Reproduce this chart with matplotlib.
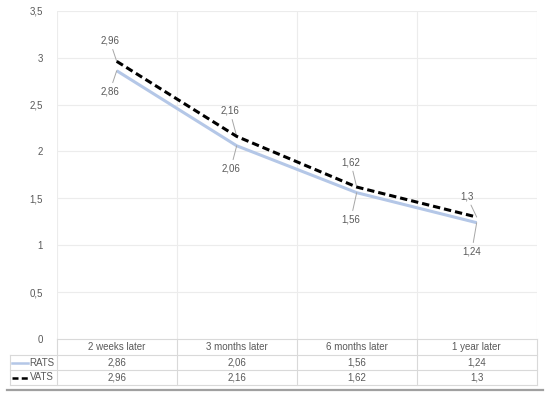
import matplotlib
matplotlib.use("Agg")
import matplotlib.pyplot as plt
from matplotlib import transforms
from matplotlib.lines import Line2D

categories = ["2 weeks later", "3 months later", "6 months later", "1 year later"]
rats = [2.86, 2.06, 1.56, 1.24]
vats = [2.96, 2.16, 1.62, 1.3]
rats_labels = ["2,86", "2,06", "1,56", "1,24"]
vats_labels = ["2,96", "2,16", "1,62", "1,3"]
yticks = [0, 0.5, 1, 1.5, 2, 2.5, 3, 3.5]
ytick_labels = ["0", "0,5", "1", "1,5", "2", "2,5", "3", "3,5"]

W, H = 550, 399
fig = plt.figure(figsize=(W / 100, H / 100), dpi=100)
plt.rcParams['font.family'] = ['Liberation Sans', 'DejaVu Sans']

def fx(px):
    return px / W

def fy(py):
    return 1 - py / H

TXT = "#595959"
GRID = "#ececec"
TAB = "#d9d9d9"
RATS_C = "#b4c7e7"

left, right, top, bottom = 56.7, 536.7, 10.7, 339
ax = fig.add_axes([fx(left), fy(bottom), fx(right) - fx(left), fy(top) - fy(bottom)])
x = list(range(len(categories)))
ax.set_xlim(-0.5, len(categories) - 0.5)
ax.set_ylim(0, 3.5)
for s in ax.spines.values():
    s.set_visible(False)
ax.set_xticks([])
ax.set_yticks(yticks)
ax.set_yticklabels(ytick_labels, color=TXT, fontsize=7)
ax.tick_params(axis='y', length=0, pad=10)
for yv in yticks[1:]:
    ax.axhline(yv, color=GRID, lw=0.8, zorder=0)
for b in range(len(categories) + 1):
    ax.axvline(b - 0.5, color=GRID, lw=0.8, zorder=0)

ax.plot(x, rats, color=RATS_C, lw=2.2, zorder=3, solid_capstyle='butt')
ax.plot(x, vats, color="black", lw=2.2, ls=(0, (2.4, 1.3)), zorder=4)

vats_off = [(-7, 21), (-7, 26), (-6, 25), (-10, 21)]
rats_off = [(-7, -21), (-6, -23), (-6, -27), (-5, -29)]
for i in x:
    ax.annotate(vats_labels[i], (x[i], vats[i]), xytext=vats_off[i], textcoords='offset pixels',
                ha='center', va='center', fontsize=7, color=TXT,
                arrowprops=dict(arrowstyle='-', color='#a6a6a6', lw=0.7, shrinkA=1, shrinkB=0))
    ax.annotate(rats_labels[i], (x[i], rats[i]), xytext=rats_off[i], textcoords='offset pixels',
                ha='center', va='center', fontsize=7, color=TXT,
                arrowprops=dict(arrowstyle='-', color='#a6a6a6', lw=0.7, shrinkA=1, shrinkB=0))

# data table
bt = transforms.blended_transform_factory(ax.transData, fig.transFigure)
rows_y = [339, 355, 370, 385]
fig.add_artist(Line2D([fx(left), fx(right)], [fy(339)] * 2, color=TAB, lw=0.8))
for ry in rows_y[1:]:
    fig.add_artist(Line2D([fx(10), fx(right)], [fy(ry)] * 2, color=TAB, lw=0.8))
for b in range(len(categories) + 1):
    fig.add_artist(Line2D([b - 0.5, b - 0.5], [fy(339), fy(385)], color=TAB, lw=0.8, transform=bt))
fig.add_artist(Line2D([fx(10), fx(10)], [fy(355), fy(385)], color=TAB, lw=0.8))

for i in x:
    fig.text(x[i], fy(347), categories[i], transform=bt, ha='center', va='center', fontsize=7, color=TXT)
    fig.text(x[i], fy(362.5), rats_labels[i], transform=bt, ha='center', va='center', fontsize=7, color=TXT)
    fig.text(x[i], fy(377.5), vats_labels[i], transform=bt, ha='center', va='center', fontsize=7, color=TXT)

fig.add_artist(Line2D([fx(12), fx(28)], [fy(362.5)] * 2, color=RATS_C, lw=1.8))
fig.add_artist(Line2D([fx(12), fx(28)], [fy(377.5)] * 2, color='black', lw=1.8, ls=(0, (2.4, 1.3))))
fig.text(fx(54), fy(362.5), "RATS", ha='right', va='center', fontsize=7, color=TXT)
fig.text(fx(54), fy(377.5), "VATS", ha='right', va='center', fontsize=7, color=TXT)

fig.add_artist(Line2D([fx(7), fx(543)], [fy(390)] * 2, color='#a0a0a0', lw=1.6))

fig.savefig("out.png", dpi=100, facecolor='white')
